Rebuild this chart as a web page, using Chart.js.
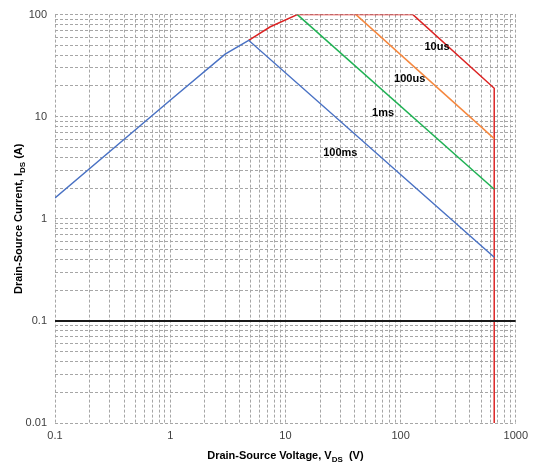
<!DOCTYPE html>
<html>
<head>
<meta charset="utf-8">
<script src="https://cdn.jsdelivr.net/npm/chart.js@4.4.1/dist/chart.umd.min.js"></script>
<style>
html,body{margin:0;padding:0;background:#fff;}
#wrap{width:534px;height:468px;position:relative;}
</style>
</head>
<body>
<div id="wrap"><canvas id="c" width="534" height="468"></canvas></div>
<script>
// ---- data ----
const ms100X = [0.1, 1, 3, 4.8, 650];
const ms100Y = [1.6, 14.5, 41, 56, 0.42];
const ms1X = [12.7, 650];
const ms1Y = [100, 1.95];
const us100X = [41, 650];
const us100Y = [100, 6.1];
const us10X = [4.8, 7.4, 12.7, 128, 650, 650];
const us10Y = [56, 76, 100, 100, 19, 0.01];
const limitX = [0.1, 1000];
const limitY = [0.1, 0.1];

const xTickValues = [];
for (const d of [0.1, 1, 10, 100]) for (let m = 1; m <= 9; m++) xTickValues.push(+(d * m).toPrecision(3));
xTickValues.push(1000);
const yTickValues = [];
for (const d of [0.01, 0.1, 1, 10]) for (let m = 1; m <= 9; m++) yTickValues.push(+(d * m).toPrecision(3));
yTickValues.push(100);
const xMajorLabels = ['0.1', '1', '10', '100', '1000'];
const yMajorLabels = ['0.01', '0.1', '1', '10', '100'];

const curveLabels = ['10us', '100us', '1ms', '100ms'];
const curveLabelX = [207, 120, 70.5, 30];
const curveLabelY = [48, 23.4, 11, 4.4];

const pts = (xs, ys) => xs.map((x, i) => ({x: x, y: ys[i]}));

const FONT = "'Liberation Sans', Arial, sans-serif";

const isMajor = v => Math.abs(Math.log10(v) - Math.round(Math.log10(v))) < 1e-9;

const overlay = {
  id: 'overlay',
  afterDraw(chart) {
    const ctx = chart.ctx;
    const xs = chart.scales.x, ys = chart.scales.y;
    ctx.save();
    ctx.fillStyle = '#000';
    ctx.font = 'bold 11px ' + FONT;
    ctx.textAlign = 'center';
    ctx.textBaseline = 'middle';
    curveLabels.forEach((t, i) => {
      ctx.fillText(t, xs.getPixelForValue(curveLabelX[i]), ys.getPixelForValue(curveLabelY[i]));
    });
    // axis titles with subscript
    function drawSub(parts, cx, cy) {
      let w = 0;
      parts.forEach(p => { ctx.font = (p.sub ? 'bold 8px ' : 'bold 11px ') + FONT; w += ctx.measureText(p.t).width; });
      let x = cx - w / 2;
      ctx.textAlign = 'left';
      ctx.textBaseline = 'alphabetic';
      parts.forEach(p => {
        ctx.font = (p.sub ? 'bold 8px ' : 'bold 11px ') + FONT;
        ctx.fillText(p.t, x, cy + (p.sub ? 3 : 0));
        x += ctx.measureText(p.t).width;
      });
    }
    drawSub([{t: 'Drain-Source Voltage, V'}, {t: 'DS', sub: true}, {t: '  (V)'}], (xs.left + xs.right) / 2, 459);
    ctx.save();
    ctx.translate(22, (ys.top + ys.bottom) / 2);
    ctx.rotate(-Math.PI / 2);
    drawSub([{t: 'Drain-Source Current, I'}, {t: 'DS', sub: true}, {t: ' (A)'}], 0, 0);
    ctx.restore();
    ctx.restore();
  }
};

const line = (xs, ys, color, w) => ({
  data: pts(xs, ys), borderColor: color, borderWidth: w, pointRadius: 0,
  fill: false, tension: 0, showLine: true
});

new Chart(document.getElementById('c'), {
  type: 'scatter',
  data: {
    datasets: [
      line(limitX, limitY, '#1a1a1a', 2),
      line(ms100X, ms100Y, '#4a72c4', 1.5),
      line(ms1X, ms1Y, '#1fb153', 1.5),
      line(us100X, us100Y, '#f5873e', 1.5),
      line(us10X, us10Y, '#dc2424', 1.5)
    ]
  },
  options: {
    responsive: false,
    animation: false,
    layout: {padding: {left: 0, right: 18, top: 12, bottom: 0}},
    plugins: {legend: {display: false}, tooltip: {enabled: false}},
    scales: {
      x: {
        type: 'logarithmic', min: 0.1, max: 1000,
        afterBuildTicks: s => { s.ticks = xTickValues.map(v => ({value: v})); },
        afterFit: s => { s.height = 45; },
        ticks: {
          autoSkip: false, maxRotation: 0, color: '#404040', padding: 6,
          font: {family: FONT, size: 11},
          callback: v => isMajor(v) ? xMajorLabels[Math.round(Math.log10(v)) + 1] : ''
        },
        grid: {color: '#a6a6a6', lineWidth: 1, drawTicks: false},
        border: {display: false, dash: [3, 2]}
      },
      y: {
        type: 'logarithmic', min: 0.01, max: 100,
        afterBuildTicks: s => { s.ticks = yTickValues.map(v => ({value: v})); },
        afterFit: s => { s.width = 55; },
        ticks: {
          autoSkip: false, color: '#404040', padding: 8,
          font: {family: FONT, size: 11},
          callback: v => isMajor(v) ? yMajorLabels[Math.round(Math.log10(v)) + 2] : ''
        },
        grid: {color: '#a6a6a6', lineWidth: 1, drawTicks: false},
        border: {display: false, dash: [3, 2]}
      }
    }
  },
  plugins: [overlay]
});
</script>
</body>
</html>
